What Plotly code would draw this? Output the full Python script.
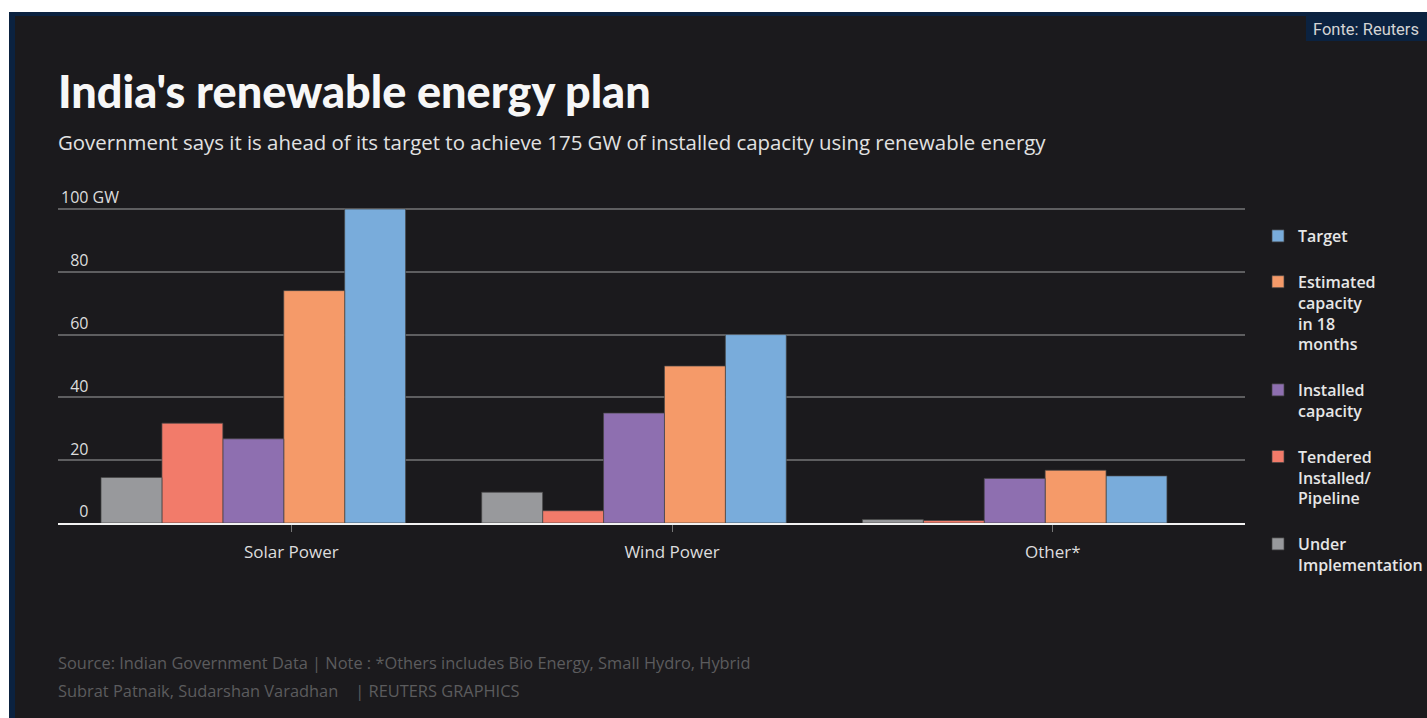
import plotly.graph_objects as go

# ---------------- data ----------------
categories = ["Solar Power", "Wind Power", "Other*"]
series_names = ["Target", "Estimated<br>capacity<br>in 18<br>months", "Installed<br>capacity",
                "Tendered<br>Installed/<br>Pipeline", "Under<br>Implementation"]
target = [100, 60, 15]
estimated = [74, 50, 16.8]
installed = [26.8, 35, 14.2]
tendered = [31.8, 3.9, 0.8]
under_impl = [14.5, 9.8, 1.1]
y_tickvals = [0, 20, 40, 60, 80, 100]
y_ticktext = ["\u2007\u20070", "\u200720", "\u200740", "\u200760", "\u200780", "100 GW"]

# ---------------- style ----------------
W, H = 1427, 718
ML, MR, MT, MB = 58, 182, 171, 195
PW, PH = W - ML - MR, H - MT - MB
YMAX = 100 + (209 - MT) / 3.14
BG = "#1b1a1d"
NAVY = "#0b2240"
FONT = "'Open Sans', Lato, 'Noto Sans', sans-serif"

def px(x):
    return (x - ML) / PW

def py(y):
    return (H - MB - y) / PH

colors = ["#79acdb", "#f59a69", "#8e6fb0", "#f27b6a", "#98999c"]
offsets = [0.14, -0.02, -0.18, -0.34, -0.50]
values = [target, estimated, installed, tendered, under_impl]

fig = go.Figure()
for i, (name, vals) in enumerate(zip(series_names, values)):
    fig.add_trace(go.Bar(
        x=categories, y=vals, name=name,
        width=0.16, offset=offsets[i],
        marker=dict(color=colors[i], line=dict(color="rgba(70,70,70,0.7)", width=1)),
        legendgroup=f"g{i}",
        hoverinfo="x+y",
    ))

fig.update_layout(
    width=W, height=H, autosize=False,
    margin=dict(l=ML, r=MR, t=MT, b=MB, pad=0, autoexpand=False),
    paper_bgcolor="white",
    plot_bgcolor="rgba(0,0,0,0)",
    barmode="overlay",
    font=dict(family=FONT, color="#dddddd"),
    showlegend=True,
    legend=dict(
        xref="container", yref="container",
        x=1258 / W, y=1 - 219 / H, xanchor="left", yanchor="top",
        bgcolor="rgba(0,0,0,0)",
        font=dict(family="'Open Sans', Lato, sans-serif", size=16, color="#e6e6e6", weight=600),
        tracegroupgap=22, valign="top", traceorder="grouped",
    ),
    xaxis=dict(
        type="category", range=[-0.613, 2.505],
        showgrid=False, showline=True, linecolor="#f2f2f2", linewidth=2,
        ticks="outside", ticklen=7, tickcolor="#777777", tickwidth=1,
        tickfont=dict(family=FONT, size=17, color="#dddddd"),
        ticklabelstandoff=6,
        fixedrange=True,
    ),
    yaxis=dict(
        range=[0, YMAX], showgrid=True, gridcolor="#5e5e60", gridwidth=2,
        zeroline=False, showline=False,
        tickvals=y_tickvals, ticktext=y_ticktext,
        ticklabelposition="inside top",
        tickfont=dict(family=FONT, size=16, color="#dddddd"),
        ticks="",
        fixedrange=True,
    ),
    shapes=[
        dict(type="rect", xref="paper", yref="paper", x0=px(9), x1=px(W + 2), y0=py(H + 2), y1=py(12),
             fillcolor=NAVY, line=dict(width=0), layer="below"),
        dict(type="rect", xref="paper", yref="paper", x0=px(15), x1=px(W + 2), y0=py(H + 2), y1=py(16),
             fillcolor=BG, line=dict(width=0), layer="below"),
        dict(type="rect", xref="paper", yref="paper", x0=px(1306), x1=px(W + 2), y0=py(41), y1=py(16),
             fillcolor=NAVY, line=dict(width=0), layer="below"),
    ],
    annotations=[
        dict(text="India's renewable energy plan", xref="paper", yref="paper",
             x=px(56), y=py(91), xanchor="left", yanchor="middle", showarrow=False,
             font=dict(family="Lato, sans-serif", size=45, color="#f7f7f7", weight=900)),
        dict(text="Government says it is ahead of its target to achieve 175 GW of installed capacity using renewable energy",
             xref="paper", yref="paper", x=px(56), y=py(142), xanchor="left", yanchor="middle",
             showarrow=False, font=dict(family=FONT, size=20.4, color="#e2e2e2")),
        dict(text="Source: Indian Government Data | Note : *Others includes Bio Energy, Small Hydro, Hybrid",
             xref="paper", yref="paper", x=px(56), y=py(662), xanchor="left", yanchor="middle",
             showarrow=False, font=dict(family=FONT, size=16.4, color="#5c5c5e")),
        dict(text="Subrat Patnaik, Sudarshan Varadhan    | REUTERS GRAPHICS",
             xref="paper", yref="paper", x=px(56), y=py(690), xanchor="left", yanchor="middle",
             showarrow=False, font=dict(family=FONT, size=16.4, color="#5c5c5e")),
        dict(text="Fonte: Reuters", xref="paper", yref="paper", x=px(1421), y=py(29),
             xanchor="right", yanchor="middle", showarrow=False,
             font=dict(family="'Liberation Sans Narrow', 'Roboto', sans-serif", size=16.5, color="#d4d4d4")),
    ],
)

fig.write_html("out.html", config={"responsive": False})
